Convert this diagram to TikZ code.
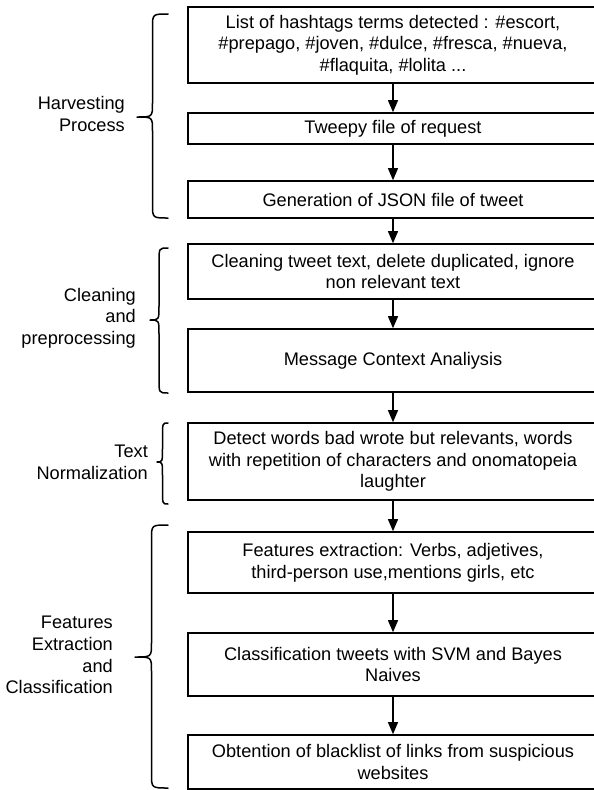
\documentclass[tikz,border=0pt]{standalone}
\usepackage{fontspec}
\setmainfont{Liberation Sans}
\usetikzlibrary{arrows.meta}

% curly brace opening to the right: right x, left (tip) x, top y, bottom y, tip y
\newcommand{\curlybrace}[5]{%
  \pgfmathsetmacro\bracemid{(#1+#2)/2}%
  \draw[braceline] (#1,#3) .. controls (\bracemid,#3) .. (\bracemid,#3+14)
    -- (\bracemid,#5-14) .. controls (\bracemid,#5) .. (#2,#5)
    .. controls (\bracemid,#5) .. (\bracemid,#5+14)
    -- (\bracemid,#4-14) .. controls (\bracemid,#4) .. (#1,#4);
}

\tikzset{
  stepbox/.style={draw=black, line width=1.6pt, minimum width=410pt,
    inner sep=2pt, align=center, font=\fontsize{18.2}{21.7}\selectfont},
  phase/.style={anchor=east, align=right, inner sep=0pt,
    font=\fontsize{18.2}{21.7}\selectfont},
  flow/.style={line width=1.2pt, -{Triangle[length=12pt,width=10pt]}},
  braceline/.style={line width=1.5pt, line cap=round, line join=round},
}

\begin{document}
\begin{tikzpicture}[x=1pt, y=-1pt]
  \useasboundingbox (0,0) rectangle (594,790);

  % process steps
  \node[stepbox, minimum height=76pt] (b1) at (393,45)
    {List of hashtags terms detected : \#escort,\\
     \#prepago, \#joven, \#dulce, \#fresca, \#nueva,\\
     \#flaquita, \#lolita ...};
  \node[stepbox, minimum height=31pt] (b2) at (393,128.5) {Tweepy file of request};
  \node[stepbox, minimum height=37pt] (b3) at (393,199.5) {Generation of JSON file of tweet};
  \node[stepbox, minimum height=55pt] (b4) at (393,271.5)
    {Cleaning tweet text, delete duplicated, ignore\\ non relevant text};
  \node[stepbox, minimum height=63pt] (b5) at (393,360.5) {Message Context Analiysis};
  \node[stepbox, minimum height=77pt] (b6) at (393,461.5)
    {Detect words bad wrote but relevants, words\\
     with repetition of characters and onomatopeia\\ laughter};
  \node[stepbox, minimum height=61pt] (b7) at (393,562.5)
    {Features extraction: Verbs, adjetives,\\ third-person use,mentions girls, etc};
  \node[stepbox, minimum height=63pt] (b8) at (393,664.5)
    {Classification tweets with SVM and Bayes\\ Naives};
  \node[stepbox, minimum height=54pt] (b9) at (393,762)
    {Obtention of blacklist of links from suspicious\\ websites};

  % connectors
  \foreach \a/\b in {b1/b2, b2/b3, b3/b4, b4/b5, b5/b6, b6/b7, b7/b8, b8/b9}
    \draw[flow] (\a.south) -- (\b.north);

  % phase braces
  \curlybrace{168}{137}{14}{218}{117}
  \curlybrace{168}{150}{248}{393}{320}
  \curlybrace{168}{157}{423}{504}{462}
  \curlybrace{168}{135}{525}{788}{657}

  % phase labels
  \node[phase] (l1) at (125,114) {Harvesting\\ Process};
  \node[phase] (l2) at (136,318) {Cleaning\\ and\\ preprocessing};
  \node[phase] (l3) at (148,462) {Text\\ Normalization};
  \node[phase] (l4) at (113,655) {Features\\ Extraction\\ and\\ Classification};
\end{tikzpicture}
\end{document}
